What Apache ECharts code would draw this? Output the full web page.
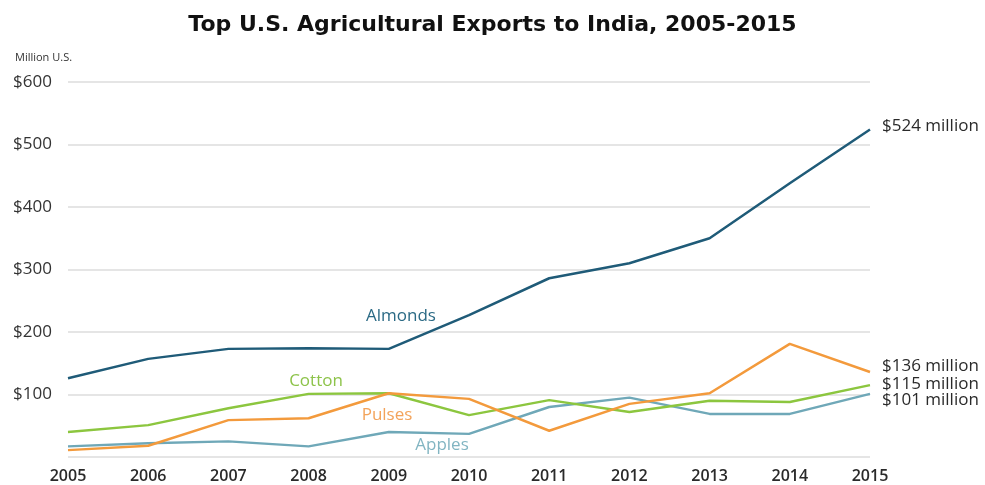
<!DOCTYPE html>
<html>
<head>
<meta charset="utf-8">
<script src="https://cdn.jsdelivr.net/npm/echarts@6/dist/echarts.min.js"></script>
<style>
  html, body { margin: 0; padding: 0; background: #fff; }
  #chart { width: 985px; height: 485px; }
</style>
</head>
<body>
<div id="chart"></div>
<script>
// Years on the x axis
const years = ['2005', '2006', '2007', '2008', '2009', '2010', '2011', '2012', '2013', '2014', '2015'];

// Export values, million US$
const almonds = [126, 157, 173, 174, 173, 227, 286, 310, 350, 438, 524];
const cotton  = [40, 51, 78, 101, 102, 67, 91, 72, 90, 88, 115];
const pulses  = [11, 18, 59, 62, 102, 93, 42, 85, 102, 181, 136];
const apples  = [17, 22, 25, 17, 40, 37, 80, 95, 69, 69, 101];

// Y axis ticks
const yTicks = [0, 100, 200, 300, 400, 500, 600];

const FONT = 'Open Sans';

const chart = echarts.init(document.getElementById('chart'));

function lineSeries(name, data, color, endOffsetY) {
  return {
    name: name,
    type: 'line',
    data: data,
    symbol: 'none',
    smooth: false,
    lineStyle: { color: color, width: 2.5 },
    itemStyle: { color: color },
    endLabel: {
      show: true,
      formatter: p => '$' + p.value + ' million',
      color: '#2a2a2a',
      fontFamily: FONT,
      fontSize: 17,
      distance: 12,
      offset: [0, endOffsetY]
    },
    z: 3
  };
}

// Inline series name placed next to its line
function nameLabel(text, cx, cy, color) {
  return {
    type: 'text', x: cx, y: cy,
    style: { text: text, fontSize: 17, fontFamily: FONT, fill: color, align: 'center', verticalAlign: 'middle' }
  };
}

const option = {
  backgroundColor: '#fff',
  animation: false,
  title: {
    text: 'Top U.S. Agricultural Exports to India, 2005-2015',
    left: 'center',
    top: 9,
    textStyle: {
      fontFamily: 'DejaVu Sans',
      fontWeight: 'bold',
      fontSize: 22,
      color: '#111'
    }
  },
  grid: { left: 68, right: 115, top: 82, bottom: 28 },
  xAxis: {
    type: 'category',
    data: years,
    boundaryGap: false,
    axisLine: { show: false },
    axisTick: { show: false },
    axisLabel: {
      color: '#2a2a2a',
      fontFamily: FONT,
      fontWeight: 600,
      fontSize: 16,
      margin: 11
    },
    splitLine: { show: false }
  },
  yAxis: {
    type: 'value',
    min: yTicks[0],
    max: yTicks[yTicks.length - 1],
    interval: 100,
    axisLine: { show: false },
    axisTick: { show: false },
    axisLabel: {
      formatter: v => v === 0 ? '' : '$' + v,
      color: '#333',
      fontFamily: FONT,
      fontSize: 17,
      align: 'left',
      margin: 55
    },
    splitLine: { lineStyle: { color: '#dcdcdc', width: 1.5 } }
  },
  graphic: [
    { type: 'text', left: 15, top: 52, style: { text: 'Million U.S.', fontSize: 11, fontFamily: FONT, fill: '#333' } },
    nameLabel('Almonds', 401, 316, '#2b6a85'),
    nameLabel('Cotton', 316, 381, '#8dc34a'),
    nameLabel('Pulses', 387, 415, '#f3a35a'),
    nameLabel('Apples', 442, 445, '#82b5c2')
  ],
  series: [
    lineSeries('Apples', apples, '#6fa8b8', 6),
    lineSeries('Cotton', cotton, '#8cc63f', -1),
    lineSeries('Pulses', pulses, '#f39a3c', -6),
    lineSeries('Almonds', almonds, '#1f5b78', -3)
  ]
};

chart.setOption(option);
</script>
</body>
</html>
